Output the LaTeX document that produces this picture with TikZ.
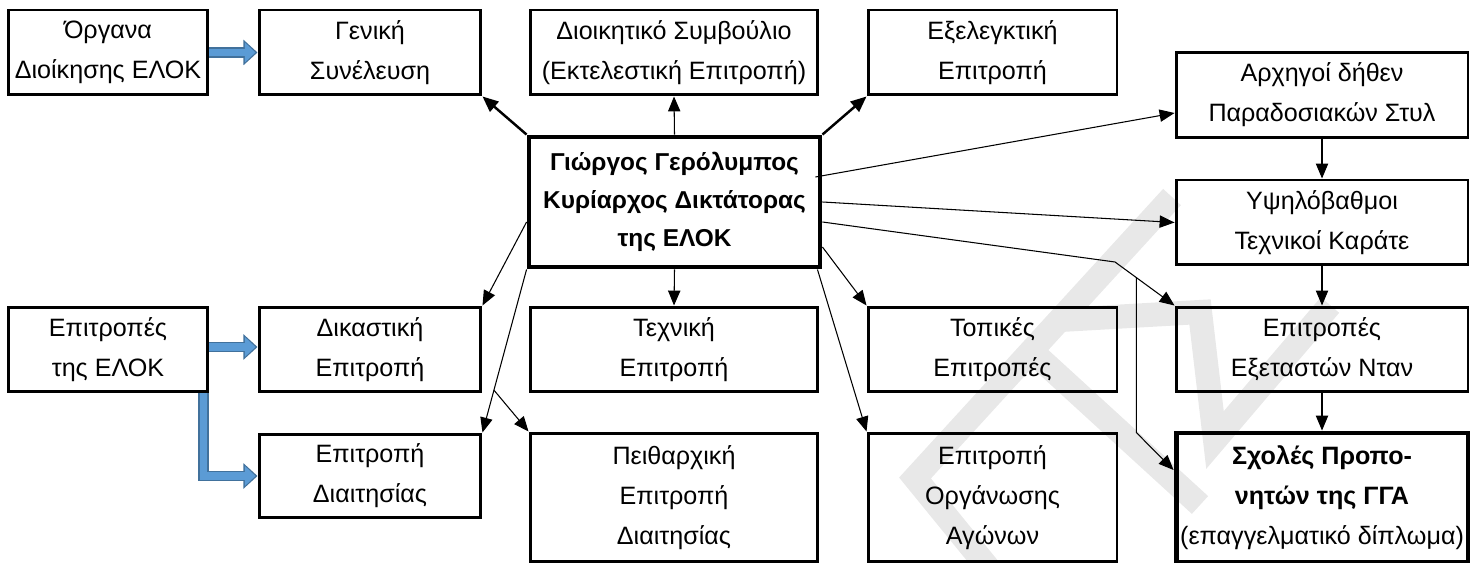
\documentclass[tikz,border=0pt]{standalone}
\usepackage{fontspec}
\setmainfont{Liberation Sans}
\usetikzlibrary{arrows.meta,calc}
\definecolor{arrowblue}{HTML}{5B9BD5}
\definecolor{edgeblue}{HTML}{41719C}
\begin{document}
\begin{tikzpicture}[x=0.02cm,y=-0.02cm,
    box/.style={draw,line width=1.7pt,inner sep=0pt,align=center,minimum height=1.7cm,
      font=\fontsize{14.3}{22.8}\selectfont},
    bossbox/.style={box,line width=2.8pt},
    link/.style={line width=0.6pt,-{Triangle[length=8.5pt,width=7pt]}},
    boldlink/.style={line width=1.4pt,-{Triangle[length=9pt,width=7.5pt]}},
    bluearrow/.style={draw=edgeblue,line width=6pt,-{Triangle[length=8pt,width=14pt]},
      postaction={draw=arrowblue,line width=4.2pt,shorten >=1.2pt,-{Triangle[length=6pt,width=11pt]}}}]
  \useasboundingbox (0,0) rectangle (1476,563);
  % watermark
  \draw[gray!18,line width=13.7pt] (1172,197) -- (915,478) -- (990,570);
  \draw[gray!18,line width=13.7pt] (1025,345) -- (1200,505);
  \draw[gray!18,line width=13.7pt] (1060,320) -- (1200,312) -- (1215,440) -- (1330,305);

  \node[box,minimum width=4cm] (org) at (108,52.5) {Όργανα\\Διοίκησης ΕΛΟΚ};
  \node[box,minimum width=4.44cm] (gen) at (370,52.5) {Γενική\\Συνέλευση};
  \node[box,minimum width=5.76cm] (board) at (674,52.5) {Διοικητικό Συμβούλιο\\(Εκτελεστική Επιτροπή)};
  \node[box,minimum width=4.98cm] (audit) at (992.5,52.5) {Εξελεγκτική\\Επιτροπή};
  \node[box,minimum width=5.84cm] (chiefs) at (1322,95) {Αρχηγοί δήθεν\\Παραδοσιακών Στυλ};
  \node[box,minimum width=5.84cm] (senior) at (1322,222.5) {Υψηλόβαθμοι\\Τεχνικοί Καράτε};
  \node[bossbox,minimum width=5.82cm,minimum height=2.6cm,
    font=\bfseries\fontsize{13.9}{21.6}\selectfont] (boss) at (674.5,202)
    {Γιώργος Γερόλυμπος\\Κυρίαρχος Δικτάτορας\\της ΕΛΟΚ};

  \node[box,minimum width=4cm] (comms) at (108,349.5) {Επιτροπές\\της ΕΛΟΚ};
  \node[box,minimum width=4.44cm] (court) at (370,349.5) {Δικαστική\\Επιτροπή};
  \node[box,minimum width=5.76cm] (tech) at (674,349.5) {Τεχνική\\Επιτροπή};
  \node[box,minimum width=4.98cm] (local) at (992.5,349.5) {Τοπικές\\Επιτροπές};
  \node[box,minimum width=5.84cm] (exam) at (1322,349.5) {Επιτροπές\\Εξεταστών Νταν};

  \node[box,minimum width=4.44cm,minimum height=1.68cm] (arbit) at (370,476) {Επιτροπή\\Διαιτησίας};
  \node[box,minimum width=5.76cm,minimum height=2.58cm] (discip) at (674,497.5) {Πειθαρχική\\Επιτροπή\\Διαιτησίας};
  \node[box,minimum width=4.98cm,minimum height=2.58cm] (games) at (992.5,497.5) {Επιτροπή\\Οργάνωσης\\Αγώνων};
  \node[bossbox,minimum width=5.84cm,minimum height=2.58cm] (schools) at (1322,497.5)
    {\textbf{Σχολές Προπο-}\\\textbf{νητών της ΓΓΑ}\\(επαγγελματικό δίπλωμα)};

  \draw[bluearrow] (org.east) -- (gen.west);
  \draw[bluearrow] ([yshift=0.05cm]comms.east) -- ([yshift=0.05cm]court.west);
  \draw[bluearrow] ([xshift=-0.12cm]comms.south east) |- (arbit.west);

  \draw[boldlink] (boss.north west) -- (gen.south east);
  \draw[link] (boss.north) -- (board.south);
  \draw[boldlink] (boss.north east) -- (audit.south west);
  \draw[link] ([xshift=-0.14cm,yshift=0.5cm]boss.east) -- ([yshift=-0.36cm]chiefs.west);
  \draw[link] (boss.east) -- (senior.west);
  \coordinate (bend) at (1115,262);
  \draw[link] ([yshift=-0.4cm]boss.east) -- (bend) -- (exam.north west);
  \coordinate (fork) at ($(bend)!0.36!(exam.north west)$);
  \draw[link] (fork) -- ++(0,155) -- ([yshift=0.55cm]schools.west);
  \draw[link] ([yshift=-0.9cm]boss.east) -- (local.north west);
  \draw[link] ([xshift=-0.1cm]boss.south east) -- (games.north west);
  \draw[link] (boss.south) -- (tech.north);
  \draw[link] ([yshift=-0.4cm]boss.west) -- (court.north east);
  \draw[link] (boss.south west) -- (arbit.north east);
  \coordinate (split) at ($(boss.south west)!0.74!(arbit.north east)$);
  \draw[link] (split) -- (discip.north west);
  \draw[link] (chiefs.south) -- (senior.north);
  \draw[link] (senior.south) -- (exam.north);
  \draw[link] (exam.south) -- (schools.north);
\end{tikzpicture}
\end{document}
